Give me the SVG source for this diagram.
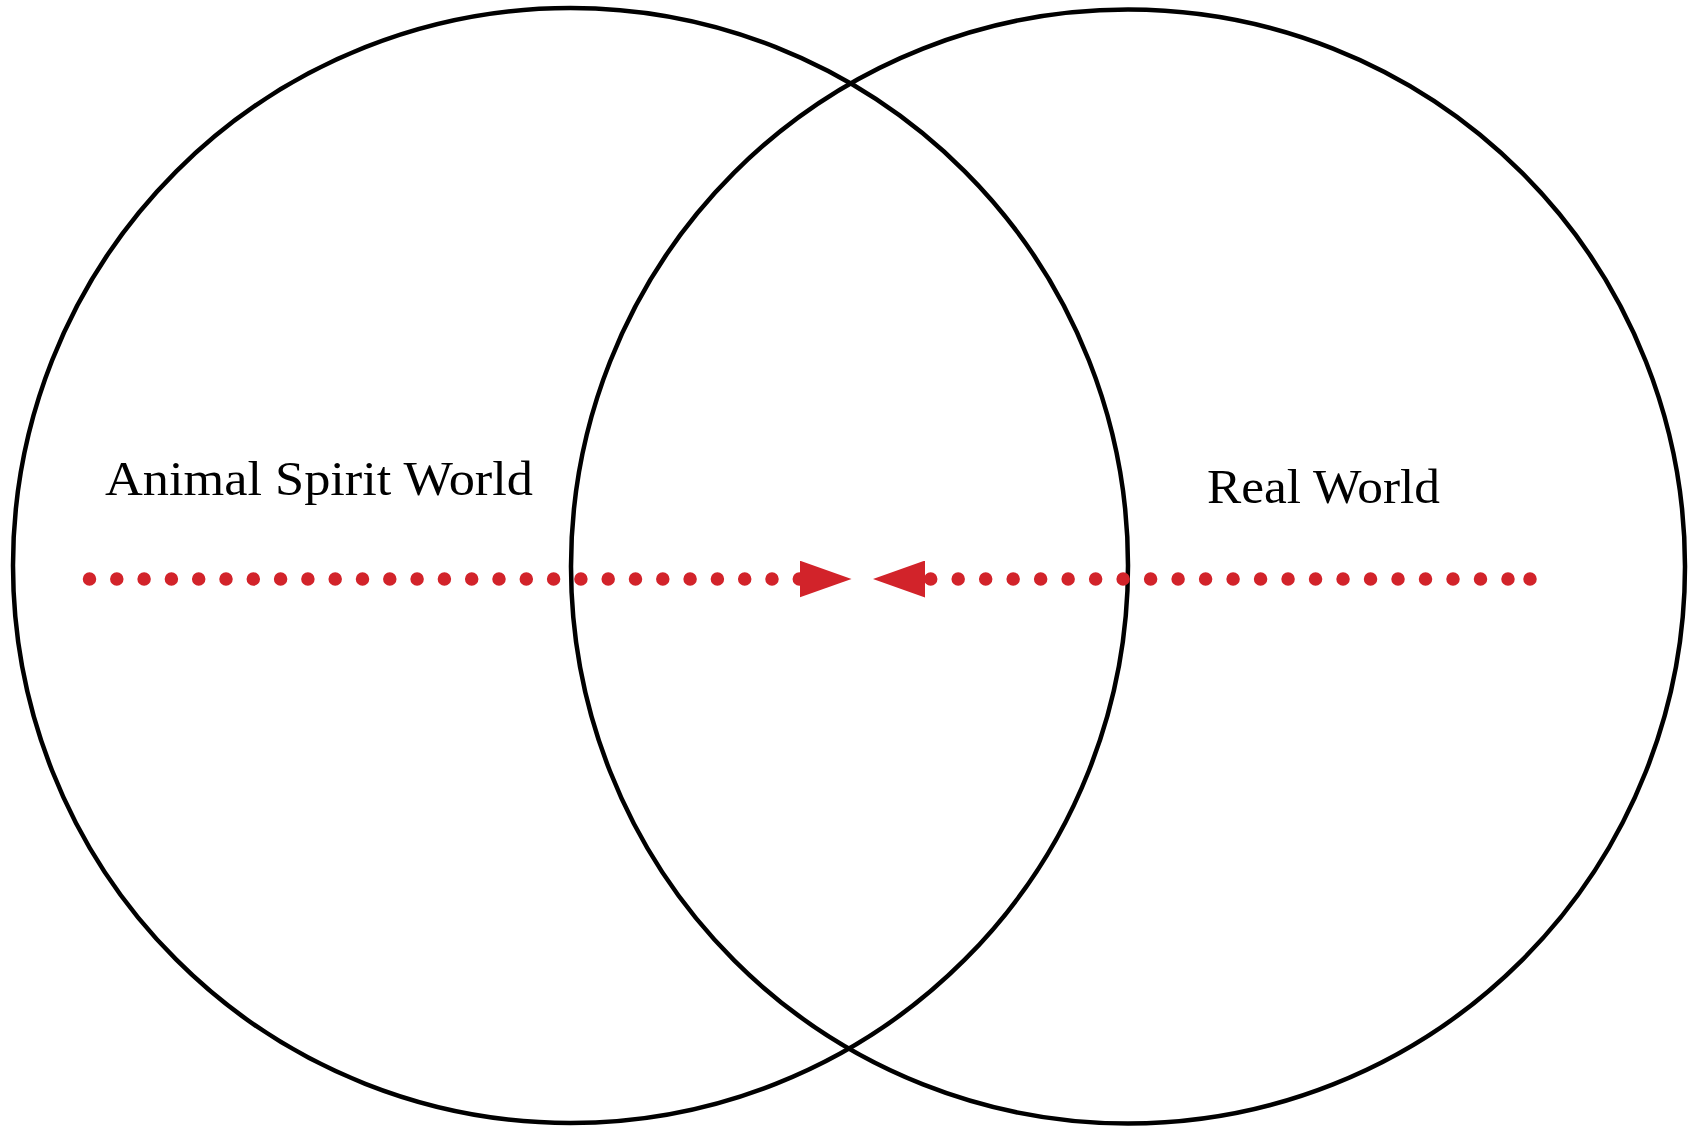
<svg xmlns="http://www.w3.org/2000/svg" width="1688" height="1128" viewBox="0 0 1688 1128">
  <style>
    .ring { fill: none; stroke: #000; stroke-width: 4.5; }
    .lbl { font-family: "Liberation Serif", "DejaVu Serif", serif; font-size: 49px; fill: #000; }
    .dots { fill: none; stroke: #d2232a; stroke-width: 13.5; stroke-linecap: round; }
    .head { fill: #d2232a; }
  </style>
  <defs>
    <marker id="arrow" markerUnits="userSpaceOnUse" viewBox="0 0 52 37" refX="0" refY="18.5" markerWidth="52" markerHeight="37" orient="auto-start-reverse">
      <path class="head" d="M0 0 L52 18.5 L0 37 Z"/>
    </marker>
  </defs>
  <rect width="1688" height="1128" fill="#fff"/>
  <g id="animal-spirit-world">
    <circle class="ring" cx="570.5" cy="565.5" r="557.5"/>
    <text class="lbl" x="105" y="495" textLength="428" lengthAdjust="spacingAndGlyphs">Animal Spirit World</text>
  </g>
  <g id="real-world">
    <circle class="ring" cx="1128" cy="566.5" r="557"/>
    <text class="lbl" x="1207" y="503" textLength="233" lengthAdjust="spacingAndGlyphs">Real World</text>
  </g>
  <g id="connectors">
    <path class="dots" d="M89.5 579 H799.5" stroke-dasharray="0 27.3" marker-end="url(#arrow)"/>
    <path class="dots" d="M925 579 H926" stroke-opacity="0" marker-start="url(#arrow)"/>
    <path class="dots" d="M930.7 579 H1508.5" stroke-dasharray="0 27.49"/>
    <circle cx="1530" cy="579" r="6.75" fill="#d2232a"/>
  </g>
</svg>
